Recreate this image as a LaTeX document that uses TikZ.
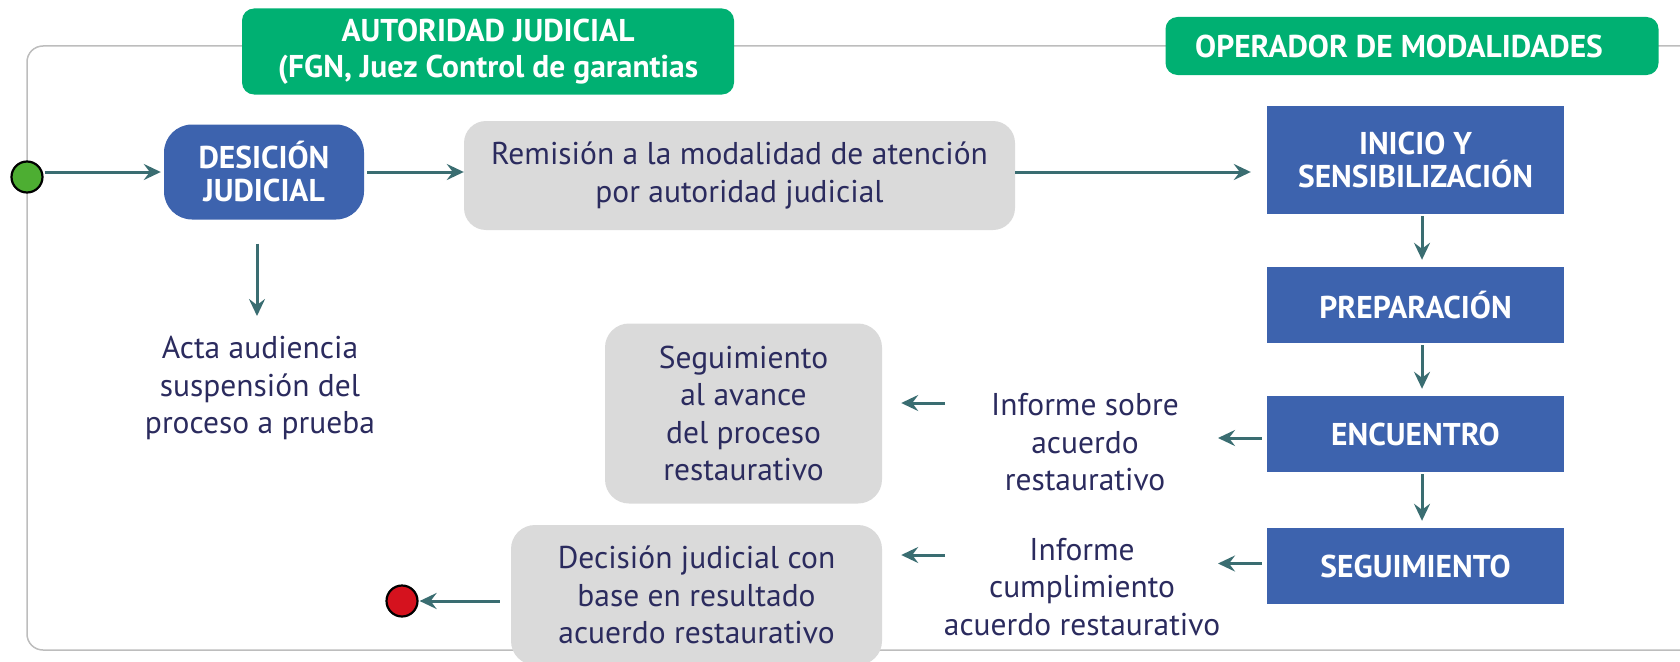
\documentclass[tikz,border=0pt]{standalone}
\usepackage{fontspec}
\setmainfont{PT Sans}
\usetikzlibrary{arrows.meta}
\definecolor{jgreen}{HTML}{00B072}
\definecolor{jblue}{HTML}{3D63AE}
\definecolor{jgray}{HTML}{DADADA}
\definecolor{jtext}{HTML}{2B2B5E}
\definecolor{jarrow}{HTML}{3A6D71}
\definecolor{jframe}{HTML}{BDBDBD}
\definecolor{startg}{HTML}{4DAE32}
\definecolor{endr}{HTML}{D5121E}
\begin{document}
\begin{tikzpicture}[x=1pt,y=-1pt,
  greenbox/.style={fill=jgreen, rounded corners=12pt, text=white, font=\bfseries\fontsize{31.5}{36}\selectfont, align=center, inner sep=0pt},
  bluebox/.style={fill=jblue, text=white, font=\bfseries\fontsize{31.5}{33}\selectfont, align=center, inner sep=0pt, minimum width=297pt},
  graybox/.style={fill=jgray, rounded corners=24pt, text=jtext, font=\fontsize{31.5}{37.5}\selectfont, align=center, inner sep=0pt},
  plaintext/.style={text=jtext, font=\fontsize{31.5}{37.5}\selectfont, align=center, inner sep=0pt},
  conn/.style={draw=jarrow, line width=3pt, -{Stealth[length=17pt,width=16pt,inset=6pt]}},
  dot/.style={circle, draw=black, line width=2.2pt, minimum size=31pt, inner sep=0pt}]
\useasboundingbox (0,0) rectangle (1680,661);
% frame
\draw[jframe, line width=1.5pt, rounded corners=16pt] (1700,46) -- (27,46) -- (27,650) -- (1700,650);
% headers
\node[greenbox, minimum width=492pt, minimum height=86pt] (auth) at (488,51.5) {AUTORIDAD JUDICIAL\\(FGN, Juez Control de garantias};
\node[greenbox, minimum width=493pt, minimum height=58pt] (oper) at (1412,46) {OPERADOR DE MODALIDADES\hspace*{26pt}};
% start / end
\node[dot, fill=startg] (start) at (27,177) {};
\node[dot, fill=endr] (end) at (402,601) {};
% left column
\node[bluebox, minimum width=200pt, minimum height=95pt, rounded corners=28pt] (desi) at (264,172) {DESICIÓN\\JUDICIAL};
\node[graybox, minimum width=551pt, minimum height=109pt, rounded corners=22pt] (remi) at (739.5,175.5) {Remisión a la modalidad de atención\\por autoridad judicial};
\node[plaintext] (acta) at (260,388) {Acta audiencia\\suspensión del\\proceso a prueba};
% right column
\node[bluebox, minimum height=108pt] (ini) at (1415.5,160) {INICIO Y\\SENSIBILIZACIÓN};
\node[bluebox, minimum height=76pt] (prep) at (1415.5,305) {PREPARACIÓN};
\node[bluebox, minimum height=76pt] (enc) at (1415.5,434) {ENCUENTRO};
\node[bluebox, minimum height=76pt] (segb) at (1415.5,566) {SEGUIMIENTO};
% middle
\node[plaintext] (inf1) at (1085,442.5) {Informe sobre\\acuerdo\\restaurativo};
\node[plaintext] (inf2) at (1082,587) {Informe\\cumplimiento\\acuerdo restaurativo};
\node[graybox, minimum width=277pt, minimum height=180pt] (segg) at (743.5,413.5) {Seguimiento\\al avance\\del proceso\\restaurativo};
\node[graybox, minimum width=371pt, minimum height=140pt] (deci) at (696.5,595) {Decisión judicial con\\base en resultado\\acuerdo restaurativo};
% coordinates for free ends
\coordinate (row) at (0,172);
\coordinate (col) at (1422,0);
\coordinate (actatop) at (257,316);
\coordinate (a1) at (1218,438);
\coordinate (b1) at (945,403);
\coordinate (a2) at (1218,563.5);
\coordinate (b2) at (945,555);
% connectors
\draw[conn, shorten <=1pt, shorten >=3pt] (start.east |- row) -- (desi.west |- row);
\draw[conn, shorten <=3pt] (desi.east |- row) -- (remi.west |- row);
\draw[conn, shorten >=16pt] (remi.east |- row) -- (ini.west |- row);
\draw[conn, shorten <=24pt] (desi.south -| actatop) -- (actatop);
\draw[conn, shorten <=2pt, shorten >=7pt] (ini.south -| col) -- (prep.north -| col);
\draw[conn, shorten <=2pt, shorten >=7pt] (prep.south -| col) -- (enc.north -| col);
\draw[conn, shorten <=2pt, shorten >=7pt] (enc.south -| col) -- (segb.north -| col);
\draw[conn, shorten <=5pt] (enc.west |- a1) -- (a1);
\draw[conn, shorten <=5pt] (segb.west |- a2) -- (a2);
\draw[conn, shorten >=19pt] (b1) -- (segg.east |- b1);
\draw[conn, shorten >=19pt] (b2) -- (deci.east |- b2);
\draw[conn, shorten <=11pt, shorten >=1pt] (deci.west |- end) -- (end.east);
\end{tikzpicture}
\end{document}
